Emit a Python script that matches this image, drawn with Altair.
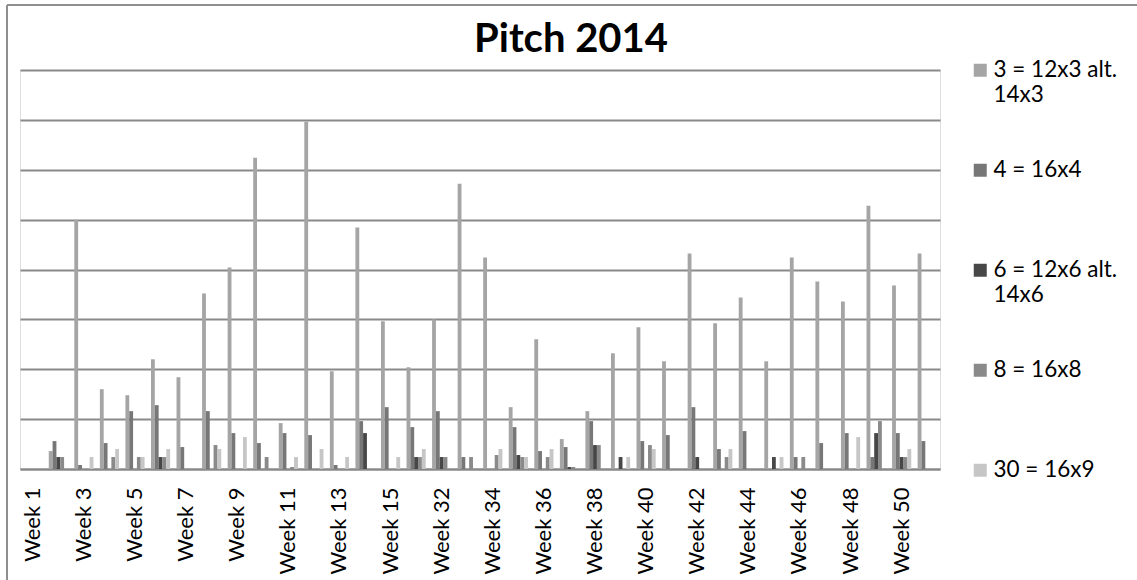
import altair as alt
import pandas as pd

# Categories (one group of bars per week)
weeks = [f"Week {n}" for n in range(1, 17)] + [f"Week {n}" for n in range(32, 52)]

# Every other week is labelled on the category axis
tick_labels = [
    "Week 1", "Week 3", "Week 5", "Week 7", "Week 9", "Week 11", "Week 13", "Week 15",
    "Week 32", "Week 34", "Week 36", "Week 38", "Week 40", "Week 42", "Week 44",
    "Week 46", "Week 48", "Week 50",
]

series_names = ["3 = 12x3 alt. 14x3", "4 = 16x4", "6 = 12x6 alt. 14x6", "8 = 16x8", "30 = 16x9"]
series_colors = ["#a5a5a5", "#777777", "#474747", "#8a8a8a", "#c6c6c6"]

s_12x3 = [0, 9, 125, 40, 37, 55, 46, 88, 101, 156, 23, 174, 49, 121, 74, 51, 75, 143,
          106, 31, 65, 15, 29, 58, 71, 54, 108, 73, 86, 54, 106, 94, 84, 132, 92, 108]
s_16x4 = [0, 14, 2, 13, 29, 32, 11, 29, 18, 13, 18, 17, 2, 24, 31, 21, 29, 6,
          0, 21, 9, 11, 24, 0, 14, 17, 31, 10, 19, 0, 6, 13, 18, 6, 18, 14]
s_12x6 = [0, 6, 0, 0, 0, 6, 0, 0, 0, 0, 0, 0, 0, 18, 0, 6, 6, 0,
          0, 7, 0, 1, 12, 6, 0, 0, 6, 0, 0, 6, 0, 0, 0, 18, 6, 0]
s_16x8 = [0, 6, 0, 6, 6, 6, 0, 12, 0, 6, 1, 0, 0, 0, 0, 6, 6, 6,
          7, 6, 6, 1, 12, 0, 12, 0, 0, 6, 0, 0, 6, 0, 0, 24, 6, 0]
s_16x9 = [0, 0, 6, 10, 6, 10, 0, 10, 16, 0, 6, 10, 6, 0, 6, 10, 0, 0,
          10, 6, 10, 0, 0, 6, 10, 0, 0, 10, 0, 6, 0, 0, 16, 0, 10, 0]

rows = []
for name, vals in zip(series_names, [s_12x3, s_16x4, s_12x6, s_16x8, s_16x9]):
    for wk, v in zip(weeks, vals):
        rows.append({"week": wk, "series": name, "value": v})
df = pd.DataFrame(rows)

FONT = "Lato"
GRID = "#898989"

# Long legend entries wrap after "alt."; short ones get an empty second line
# so every entry has the same height.
legend_label = (
    "indexof(datum.label, ' alt. ') > 0 ? "
    "[slice(datum.label, 0, indexof(datum.label, ' alt. ') + 5), "
    "slice(datum.label, indexof(datum.label, ' alt. ') + 6)] : [datum.label, '']"
)

bars = alt.Chart(df).mark_bar().encode(
    x=alt.X(
        "week:N",
        sort=weeks,
        scale=alt.Scale(paddingInner=0.25, paddingOuter=0.125),
        axis=alt.Axis(
            title=None, values=tick_labels, labelAngle=270, ticks=False,
            labelPadding=18, labelFont=FONT, labelFontSize=22, labelColor="#000000",
            domain=True, domainColor=GRID, domainWidth=2, grid=False,
        ),
    ),
    xOffset=alt.XOffset("series:N", sort=series_names, scale=alt.Scale(paddingInner=0, paddingOuter=0)),
    y=alt.Y(
        "value:Q",
        scale=alt.Scale(domain=[0, 200], nice=False),
        axis=alt.Axis(
            title=None, labels=False, ticks=False, domain=False, grid=True,
            values=list(range(0, 201, 25)), gridColor=GRID, gridWidth=2,
        ),
    ),
    color=alt.Color(
        "series:N",
        sort=series_names,
        scale=alt.Scale(domain=series_names, range=series_colors),
        legend=alt.Legend(
            title=None, orient="none", legendX=949, legendY=-11,
            symbolType="square", symbolSize=169, symbolStrokeWidth=0,
            labelFont=FONT, labelFontSize=22.5, labelColor="#000000",
            labelOffset=2, labelLimit=0, rowPadding=52, labelExpr=legend_label,
        ),
    ),
)

# Outer frame of the chart (left and top edges)
frame_src = alt.Data(values=[{"k": 0}])
left_edge = alt.Chart(frame_src).mark_rule(color="#8f8f8f", strokeWidth=2).encode(
    x=alt.value(-13), y=alt.value(-65), y2=alt.value(510)
)
top_edge = alt.Chart(frame_src).mark_rule(color="#8f8f8f", strokeWidth=2).encode(
    x=alt.value(-13), x2=alt.value(1117), y=alt.value(-65)
)

chart = alt.layer(left_edge, top_edge, bars).properties(
    width=920,
    height=399,
    autosize=alt.AutoSizeParams(type="none"),
    padding={"left": 20, "top": 70, "right": 197, "bottom": 111},
    title=alt.TitleParams(
        "Pitch 2014", font=FONT, fontSize=40, fontWeight="bold", color="#000000",
        anchor="middle", frame="group", dx=91, offset=0, dy=88,
        baseline="alphabetic",
    ),
).configure_view(stroke=None).configure(background="#ffffff")

chart.save("out.html", embed_options={"renderer": "svg", "actions": False})
